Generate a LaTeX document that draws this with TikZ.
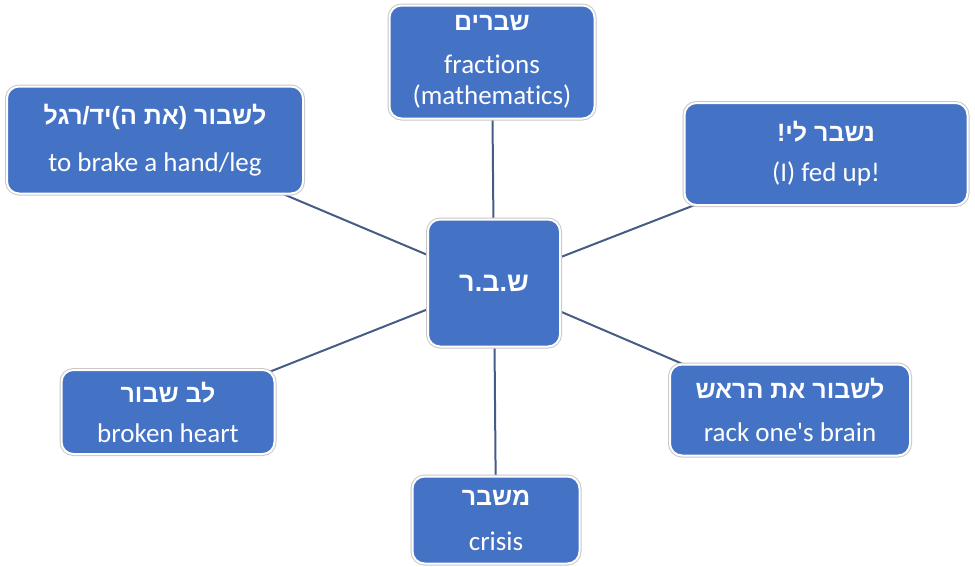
\documentclass[tikz,border=0pt]{standalone}
\usepackage{fontspec}
\setmainfont{Carlito}[RawFeature=-liga]
\newfontfamily\hebfont[Script=Hebrew]{Liberation Sans}
\TeXXeTstate=1
\usetikzlibrary{backgrounds}
\definecolor{boxblue}{HTML}{4472C4}
\definecolor{linkgray}{RGB}{70,92,135}

\begin{document}
\begin{tikzpicture}[x=1pt, y=-1pt,
    wordbox/.style={rectangle, rounded corners=12pt, fill=boxblue, draw=white, line width=2pt,
        preaction={draw=black!22, line width=4pt}, text=white, align=center, inner sep=0pt,
        font=\fontsize{27}{31}\selectfont},
    link/.style={draw=linkgray, line width=2pt}]
    \useasboundingbox (0,0) rectangle (975,566);

    \node[wordbox, minimum width=132, minimum height=127] (root) at (494,283)
        {\hebfont\bfseries\fontsize{27}{31}\selectfont\beginR ש.ב.ר\endR};
    \node[wordbox, minimum width=205, minimum height=113] (fractions) at (492,62)
        {{\hebfont\bfseries\fontsize{25}{31}\selectfont\beginR שברים\endR}\\[12pt] fractions\\ (mathematics)};
    \node[wordbox, minimum width=296, minimum height=107] (hand) at (155,140)
        {{\hebfont\bfseries\fontsize{25}{31}\selectfont\beginR לשבור (את ה)יד/רגל\endR}\\[16pt] to brake a hand/leg};
    \node[wordbox, minimum width=283, minimum height=102] (fedup) at (826,154)
        {{\hebfont\bfseries\fontsize{25}{31}\selectfont\beginR נשבר לי!\endR}\\[9pt] (I) fed up!};
    \node[wordbox, minimum width=213, minimum height=84] (heart) at (168,412)
        {{\hebfont\bfseries\fontsize{25}{31}\selectfont\beginR לב שבור\endR}\\[9pt] broken heart};
    \node[wordbox, minimum width=240, minimum height=91] (brain) at (790,410)
        {{\hebfont\bfseries\fontsize{25}{31}\selectfont\beginR לשבור את הראש\endR}\\[12pt] rack one\textquotesingle s brain};
    \node[wordbox, minimum width=167, minimum height=87] (crisis) at (496,520)
        {{\hebfont\bfseries\fontsize{25}{31}\selectfont\beginR משבר\endR}\\[14pt] crisis};

    \begin{scope}[on background layer]
        \draw[link] (root.center) -- (fractions.center);
        \draw[link] (root.center) -- (hand.center);
        \draw[link] (root.center) -- (fedup.center);
        \draw[link] (root.center) -- (heart.center);
        \draw[link] (root.center) -- (brain.center);
        \draw[link] (root.center) -- (crisis.center);
    \end{scope}
\end{tikzpicture}
\end{document}
